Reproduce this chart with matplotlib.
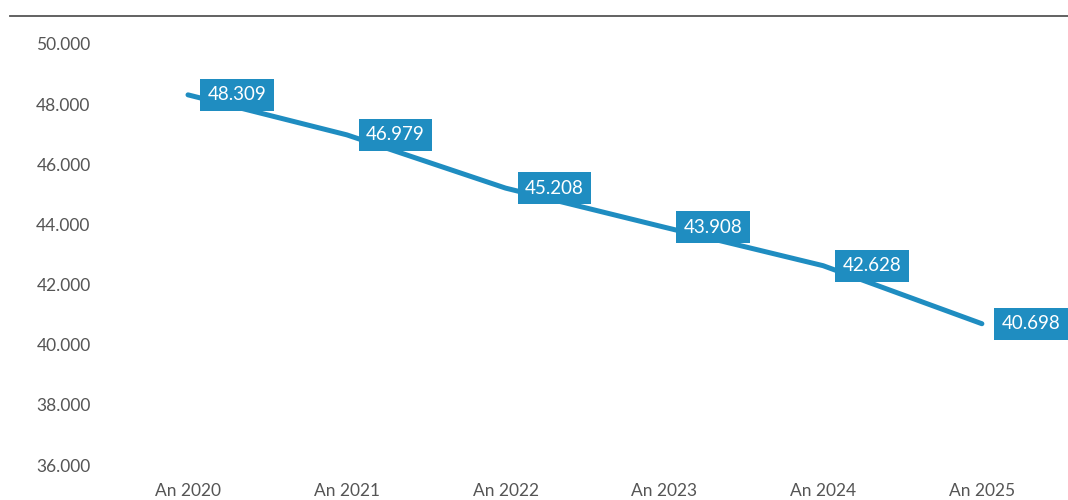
import matplotlib.pyplot as plt
from matplotlib.lines import Line2D

# data
years = ['An 2020', 'An 2021', 'An 2022', 'An 2023', 'An 2024', 'An 2025']
values = [48309, 46979, 45208, 43908, 42628, 40698]
value_labels = ['48.309', '46.979', '45.208', '43.908', '42.628', '40.698']
y_ticks = [36000, 38000, 40000, 42000, 44000, 46000, 48000, 50000]
y_tick_labels = ['36.000', '38.000', '40.000', '42.000', '44.000', '46.000', '48.000', '50.000']

blue = '#1f8dc1'
grey = '#555555'

plt.rcParams['font.family'] = ['Lato', 'DejaVu Sans']

fig = plt.figure(figsize=(10.68, 5.0), dpi=100)
ax = fig.add_axes([0.1017, 0.07, 0.892, 0.842])

x = list(range(len(years)))
ax.plot(x, values, color=blue, lw=3.6, solid_capstyle='round', zorder=2)

# value boxes to the right of each point
for xi, v, lab in zip(x, values, value_labels):
    ax.annotate(lab, (xi, v), xytext=(14, 0), textcoords='offset points',
                ha='left', va='center', fontsize=13.5, color='white', zorder=3,
                bbox=dict(boxstyle='square,pad=0.4', fc=blue, ec='none'))

ax.set_xlim(-0.5, 5.5)
ax.set_ylim(36000, 50000)
ax.set_xticks(x)
ax.set_xticklabels(years)
ax.set_yticks(y_ticks)
ax.set_yticklabels(y_tick_labels)
ax.tick_params(axis='both', length=0, labelsize=12.5, labelcolor=grey)
ax.tick_params(axis='y', pad=13)
ax.tick_params(axis='x', pad=13)
for s in ax.spines.values():
    s.set_visible(False)

# rule across the top
fig.add_artist(Line2D([10 / 1068, 1.0], [0.968, 0.968], color=grey, lw=1.3))

fig.savefig('out.png', dpi=100)
